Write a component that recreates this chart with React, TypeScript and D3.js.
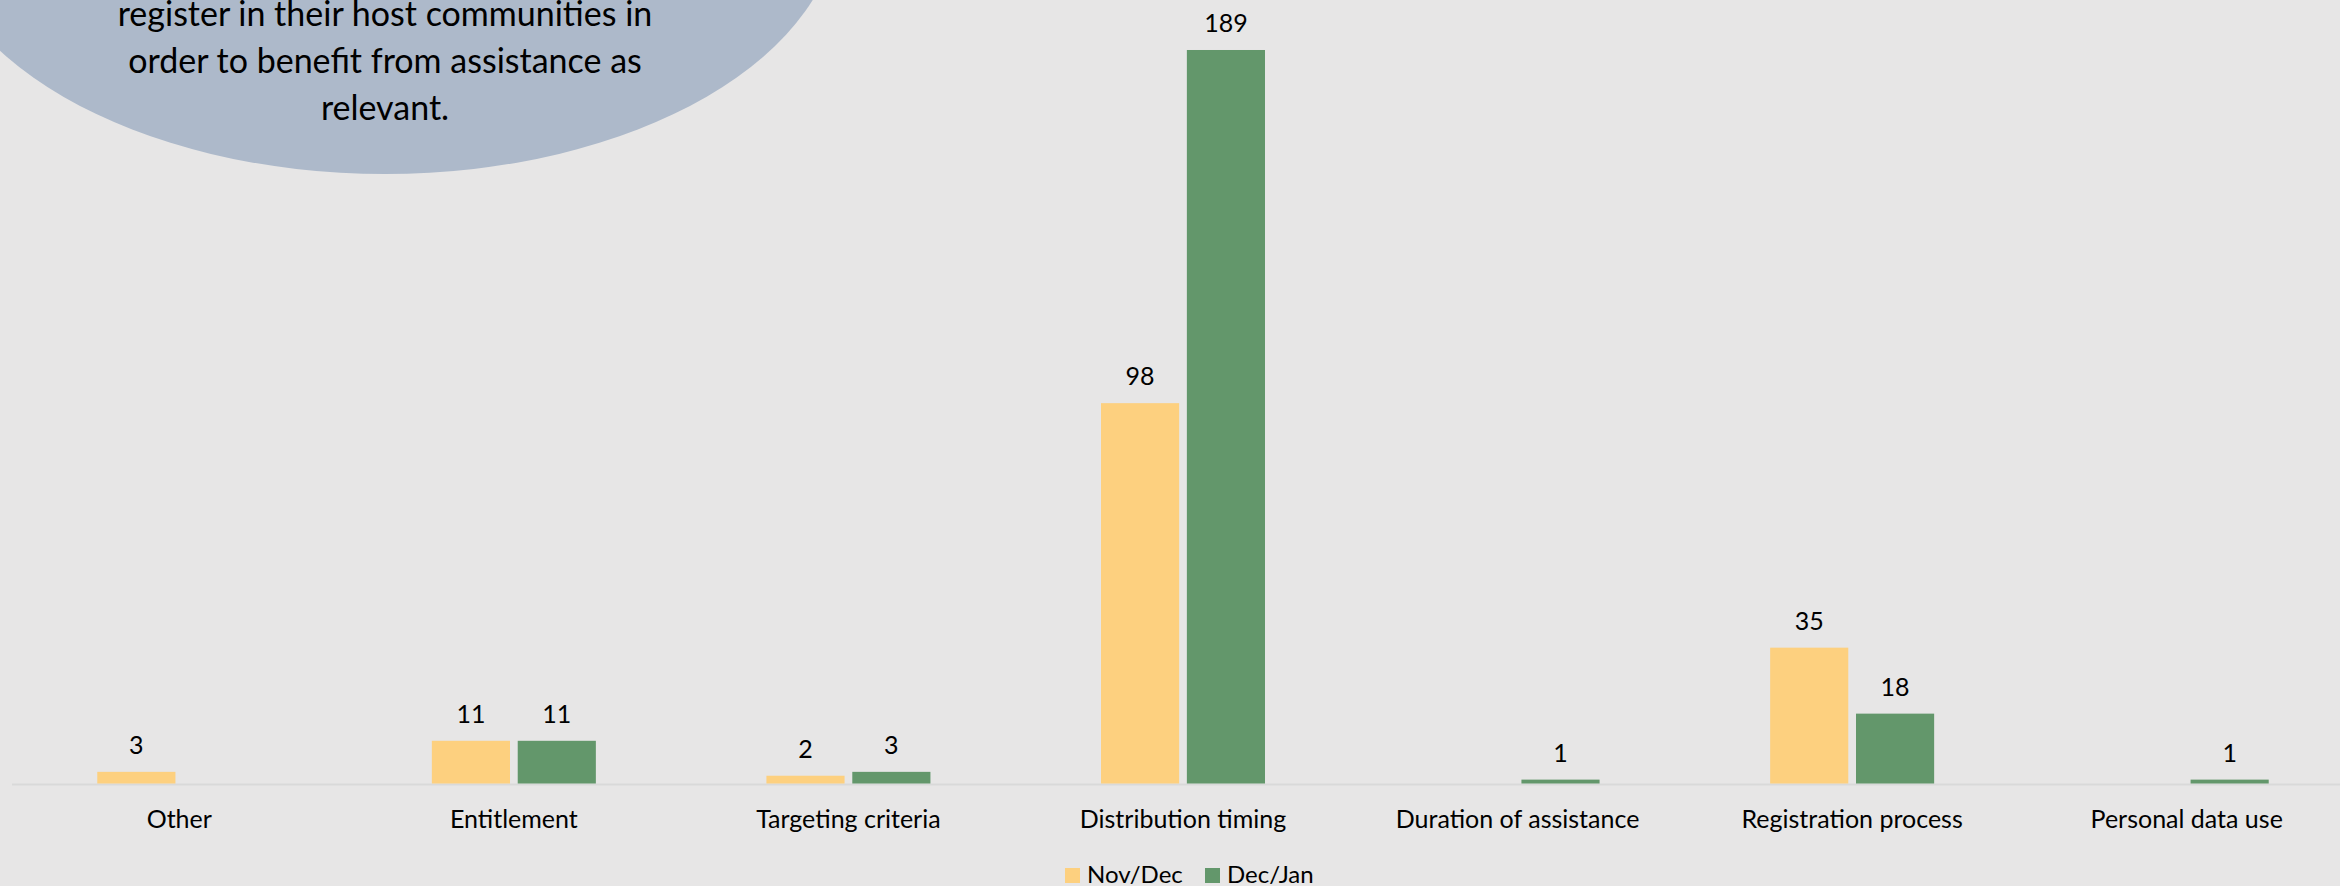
import React from "react";
import * as d3 from "d3";

const categories = [
  "Other",
  "Entitlement",
  "Targeting criteria",
  "Distribution timing",
  "Duration of assistance",
  "Registration process",
  "Personal data use",
];
const seriesNames = ["Nov/Dec", "Dec/Jan"];
const novDec: (number | null)[] = [3, 11, 2, 98, null, 35, null];
const decJan: (number | null)[] = [null, 11, 3, 189, 1, 18, 1];
const calloutLines = [
  "register in their host communities in",
  "order to benefit from assistance as",
  "relevant.",
];

const W = 2340;
const H = 886;
const colors = ["#FDD07F", "#63976B"];
const FONT = "Lato, 'Noto Sans', sans-serif";

export default function App() {
  const x0 = d3.scaleBand<string>().domain(categories).range([12, 2354]);
  const bw = x0.bandwidth();
  const x1 = d3
    .scaleBand<string>()
    .domain(seriesNames)
    .range([bw / 2 - 82, bw / 2 + 82])
    .paddingInner(0.09);
  const y = d3.scaleLinear().domain([0, 200]).range([783.5, 7.3]);
  const series = [novDec, decJan];

  return (
    <div style={{ position: "absolute", left: 0, top: 0 }}>
      <svg width={W} height={H} style={{ display: "block" }} fontFamily={FONT}>
        <rect x={0} y={0} width={W} height={H} fill="#E7E6E6" />
        <ellipse cx={385} cy={-90} rx={455} ry={264} fill="#ADB9CA" />
        {calloutLines.map((t, i) => (
          <text key={t} x={385} y={26 + i * 47} textAnchor="middle" fontSize={34} fill="#000">
            {t}
          </text>
        ))}
        <line x1={12} x2={W} y1={y(0) + 1} y2={y(0) + 1} stroke="#D9D9D9" strokeWidth={2} />
        {categories.map((c, ci) => (
          <g key={c} transform={`translate(${x0(c)},0)`}>
            {series.map((s, si) => {
              const v = s[ci];
              if (v == null) return null;
              const bx = x1(seriesNames[si])!;
              return (
                <g key={si}>
                  <rect
                    x={bx}
                    y={y(v)}
                    width={x1.bandwidth()}
                    height={y(0) - y(v)}
                    fill={colors[si]}
                  />
                  <text
                    x={bx + x1.bandwidth() / 2}
                    y={y(v) - 18}
                    textAnchor="middle"
                    fontSize={25}
                    fill="#000"
                  >
                    {v}
                  </text>
                </g>
              );
            })}
            <text x={bw / 2} y={828} textAnchor="middle" fontSize={25} fill="#000">
              {c}
            </text>
          </g>
        ))}
        {seriesNames.map((n, i) => {
          const lx = 1065 + i * 140;
          return (
            <g key={n}>
              <rect x={lx} y={868} width={15} height={15} fill={colors[i]} />
              <text x={lx + 22} y={883} fontSize={24} fill="#000">
                {n}
              </text>
            </g>
          );
        })}
      </svg>
    </div>
  );
}
